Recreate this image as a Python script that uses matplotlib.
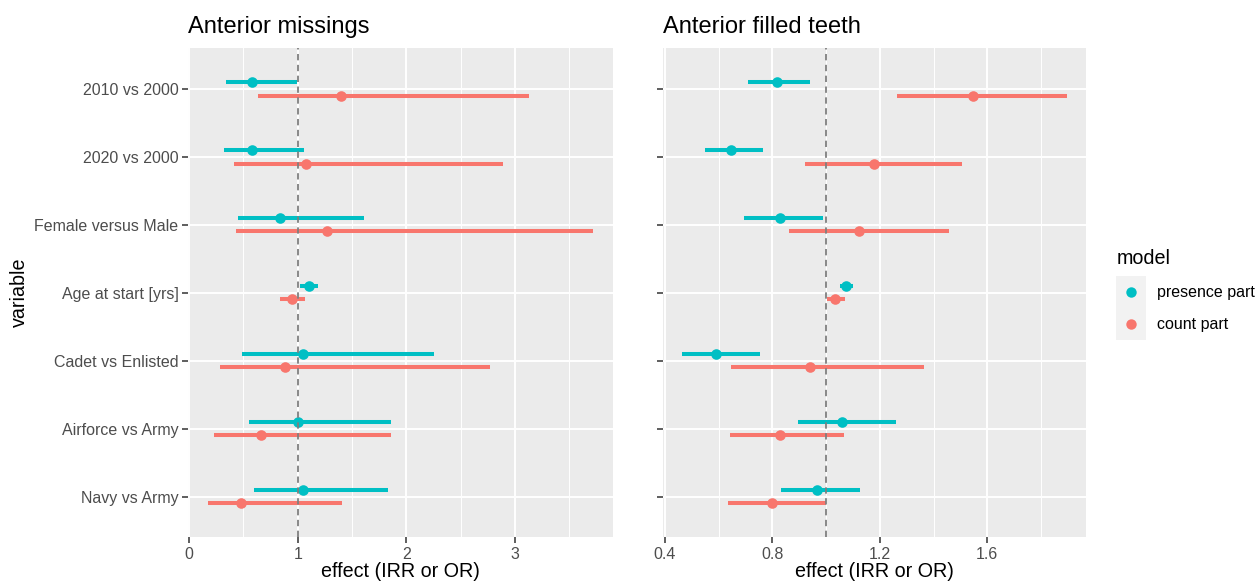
import matplotlib
matplotlib.use("Agg")
import matplotlib.pyplot as plt
from matplotlib.lines import Line2D
from matplotlib.patches import Rectangle
import numpy as np

plt.rcParams['font.family'] = ['Liberation Sans', 'DejaVu Sans']

# rows, top to bottom
variables = ["2010 vs 2000", "2020 vs 2000", "Female versus Male", "Age at start [yrs]",
             "Cadet vs Enlisted", "Airforce vs Army", "Navy vs Army"]

# Anterior missings
miss_pres_est = [0.58, 0.58, 0.84, 1.10, 1.05, 1.00, 1.05]
miss_pres_lo = [0.34, 0.32, 0.45, 1.02, 0.49, 0.55, 0.60]
miss_pres_hi = [0.99, 1.06, 1.61, 1.19, 2.25, 1.86, 1.83]
miss_cnt_est = [1.40, 1.08, 1.27, 0.95, 0.88, 0.66, 0.48]
miss_cnt_lo = [0.63, 0.41, 0.43, 0.84, 0.28, 0.23, 0.17]
miss_cnt_hi = [3.13, 2.89, 3.72, 1.07, 2.77, 1.86, 1.41]

# Anterior filled teeth
fill_pres_est = [0.816, 0.647, 0.828, 1.075, 0.591, 1.060, 0.967]
fill_pres_lo = [0.711, 0.551, 0.695, 1.053, 0.464, 0.894, 0.831]
fill_pres_hi = [0.940, 0.764, 0.989, 1.099, 0.753, 1.260, 1.128]
fill_cnt_est = [1.548, 1.178, 1.121, 1.035, 0.940, 0.828, 0.798]
fill_cnt_lo = [1.265, 0.921, 0.864, 1.002, 0.648, 0.642, 0.635]
fill_cnt_hi = [1.896, 1.507, 1.456, 1.069, 1.363, 1.067, 1.000]

model_labels = ["presence part", "count part"]
colors = ["#00BFC4", "#F8766D"]

W, H = 1258, 584
fig = plt.figure(figsize=(W / 100, H / 100), dpi=100)

top, bot = 48, 537.3
ax1 = fig.add_axes([188.3 / W, 1 - bot / H, 424.4 / W, (bot - top) / H])
ax2 = fig.add_axes([662.7 / W, 1 - bot / H, 423.4 / W, (bot - top) / H])

ypos = np.arange(len(variables))


def draw_panel(ax, pres, cnt, major, minor, labels, show_y):
    ax.set_facecolor("#EBEBEB")
    for s in ax.spines.values():
        s.set_visible(False)
    for m in minor:
        ax.axvline(m, color="white", lw=0.7, zorder=0)
    for m in major:
        ax.axvline(m, color="white", lw=1.4, zorder=0)
    for y in ypos:
        ax.axhline(y, color="white", lw=1.4, zorder=0)
    for (est, lo, hi), off, c in zip([pres, cnt], [-0.1, 0.1], colors):
        ax.hlines(ypos + off, lo, hi, color=c, lw=2.9, zorder=2)
        ax.scatter(est, ypos + off, s=58, color=c, zorder=3, linewidths=0)
    ax.axvline(1, color="#7F7F7F", lw=1.3, ls=(0, (3.5, 2.5)), zorder=4)
    ax.set_yticks(ypos)
    ax.set_yticklabels(variables if show_y else [])
    ax.set_ylim(len(variables) - 0.4, -0.6)
    ax.set_xticks(major)
    ax.set_xticklabels(labels)
    ax.tick_params(length=4, width=1.1, color="#333333", labelcolor="#4D4D4D",
                   labelsize=11.5, pad=3)
    ax.set_xlabel("effect (IRR or OR)", fontsize=14.2, labelpad=0)


allv = miss_pres_lo + miss_pres_hi + miss_cnt_lo + miss_cnt_hi
draw_panel(ax1, (miss_pres_est, miss_pres_lo, miss_pres_hi),
           (miss_cnt_est, miss_cnt_lo, miss_cnt_hi),
           [0, 1, 2, 3], [0.5, 1.5, 2.5, 3.5], ["0", "1", "2", "3"], True)
lo, hi = min(allv), max(allv)
ax1.set_xlim(lo - 0.05 * (hi - lo), hi + 0.05 * (hi - lo))

allv = fill_pres_lo + fill_pres_hi + fill_cnt_lo + fill_cnt_hi
draw_panel(ax2, (fill_pres_est, fill_pres_lo, fill_pres_hi),
           (fill_cnt_est, fill_cnt_lo, fill_cnt_hi),
           [0.4, 0.8, 1.2, 1.6], [0.6, 1.0, 1.4, 1.8], ["0.4", "0.8", "1.2", "1.6"], False)
lo, hi = min(allv), max(allv)
ax2.set_xlim(lo - 0.05 * (hi - lo), hi + 0.05 * (hi - lo))

ax1.set_ylabel("variable", fontsize=14.2, labelpad=4)

fig.text(188.3 / W, 1 - 33 / H, "Anterior missings", fontsize=17, va="baseline", ha="left")
fig.text(662.7 / W, 1 - 33 / H, "Anterior filled teeth", fontsize=17, va="baseline", ha="left")

# legend
fig.text(1117 / W, 1 - 258 / H, "model", fontsize=14.2, va="center", ha="left")
for i, (lab, c) in enumerate(zip(model_labels, colors)):
    yc = 292 + i * 32
    fig.add_artist(Rectangle((1116 / W, 1 - (yc + 16) / H), 30 / W, 32 / H,
                             transform=fig.transFigure, facecolor="#F2F2F2", edgecolor="none"))
    fig.add_artist(Line2D([1131 / W], [1 - yc / H], marker="o", markersize=7.5,
                          color=c, markeredgewidth=0, transform=fig.transFigure))
    fig.text(1157 / W, 1 - yc / H, lab, fontsize=11.5, va="center", ha="left")

fig.savefig("out.png", dpi=100)
